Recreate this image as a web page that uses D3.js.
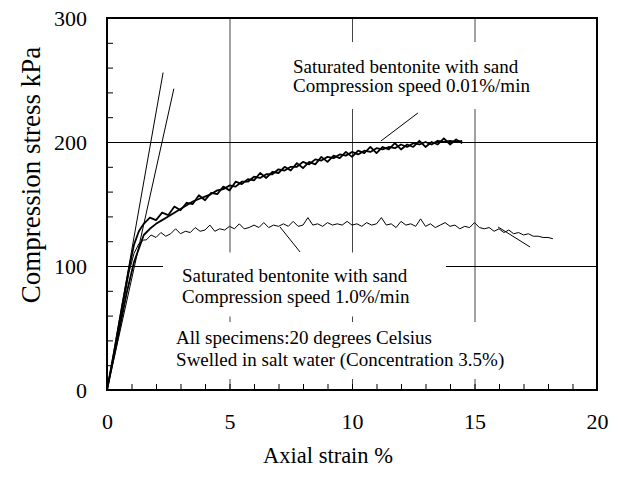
<!DOCTYPE html>
<html>
<head>
<meta charset="utf-8">
<script src="https://cdn.jsdelivr.net/npm/d3@7"></script>
<style>
  body { margin: 0; background: #fff; }
  svg text { font-family: "Liberation Serif", "Times New Roman", serif; fill: #000; }
</style>
</head>
<body>
<div id="chart"></div>
<script>
// axis ticks / grid
const xTicks = [0, 5, 10, 15, 20];
const yTicks = [0, 100, 200, 300];
const xGrid = [5, 10, 15];
const yGrid = [100, 200];

// compression speed 0.01%/min, two specimens [strain %, stress kPa]
const slowA = [
  [0,0],[0.3,32],[0.6,66],[0.9,98],[1.1,117],[1.3,128],[1.5,134],[1.75,139],[2,137],[2.25,143],
  [2.5,141],[2.75,148],[3,145],[3.25,151],[3.5,150],[3.75,157],[4,153],[4.25,159],[4.5,158],
  [4.75,164],[5,161],[5.25,168],[5.5,166],[5.75,170],[6,169],[6.25,175],[6.5,171],[6.75,176],
  [7,175],[7.25,180],[7.5,177],[7.75,183],[8,179],[8.25,184],[8.5,182],[8.75,188],[9,184],
  [9.25,189],[9.5,187],[9.75,192],[10,188],[10.25,193],[10.5,191],[10.75,196],[11,191],
  [11.25,196],[11.5,194],[11.75,199],[12,194],[12.25,198],[12.5,196],[12.75,201],[13,196],
  [13.25,200],[13.5,198],[13.75,203],[14,198],[14.25,202],[14.5,199]
];
const slowB = [
  [0,0],[0.4,38],[0.8,78],[1.1,103],[1.3,114],[1.5,125],[1.75,130],[2,134],[2.25,137],[2.5,140],
  [2.75,143],[3,146],[3.25,149],[3.5,152],[3.75,154],[4,156],[4.25,158],[4.5,161],[4.75,162],
  [5,165],[5.25,164],[5.5,168],[5.75,168],[6,172],[6.25,171],[6.5,174],[6.75,174],[7,178],
  [7.25,177],[7.5,180],[7.75,180],[8,184],[8.25,182],[8.5,186],[8.75,185],[9,188],[9.25,187],
  [9.5,190],[9.75,189],[10,192],[10.25,190],[10.5,193],[10.75,192],[11,195],[11.25,194],
  [11.5,196],[11.75,195],[12,198],[12.25,196],[12.5,199],[12.75,198],[13,200],[13.25,198],
  [13.5,201],[13.75,200],[14,201],[14.25,200],[14.5,201]
];

// compression speed 1.0%/min
const fastCurve = [
  [0,0],[0.3,30],[0.6,62],[0.9,95],[1.1,110],[1.3,118],[1.5,121],[1.6,121],[1.8,125],[2.0,123],
  [2.2,127],[2.4,124],[2.6,126],[2.8,130],[3.0,126],[3.2,128],[3.4,127],[3.6,131],[3.8,128],
  [4.0,129],[4.2,133],[4.4,128],[4.6,130],[4.8,129],[5.0,132],[5.2,130],[5.4,134],[5.6,130],
  [5.8,131],[6.0,133],[6.2,131],[6.4,135],[6.6,131],[6.8,133],[7.0,132],[7.2,134],[7.4,132],
  [7.6,136],[7.8,132],[8.0,133],[8.2,139],[8.4,133],[8.6,134],[8.8,132],[9.0,135],[9.2,133],
  [9.4,134],[9.6,133],[9.8,136],[10.0,133],[10.2,134],[10.4,132],[10.6,135],[10.8,133],
  [11.0,134],[11.2,139],[11.4,133],[11.6,134],[11.8,131],[12.0,136],[12.2,133],[12.4,134],
  [12.6,132],[12.8,138],[13.0,132],[13.2,134],[13.4,131],[13.6,133],[13.8,135],[14.0,132],
  [14.2,133],[14.4,130],[14.6,132],[14.8,131],[15.0,135],[15.2,131],[15.4,130],[15.6,131],
  [15.8,128],[16.0,130],[16.2,127],[16.4,129],[16.6,126],[16.8,127],[17.0,125],[17.2,126],
  [17.4,124],[17.6,124],[17.8,123],[18.0,123],[18.2,122]
];

// initial tangent lines
const tangentLines = [
  [[0,0],[2.29,256]],
  [[0,0],[2.73,243]]
];

// leader lines from notes to curves
const leaderLines = [
  [[11.18,200.8],[12.69,223.4]],
  [[7.06,131.5],[7.88,111.3]],
  [[15.96,131.5],[17.27,115.3]]
];

const noteSlow = ["Saturated bentonite with sand", "Compression speed 0.01%/min"];
const noteFast = ["Saturated bentonite with sand", "Compression speed 1.0%/min"];
const noteAll = ["All specimens:20 degrees Celsius", "Swelled in salt water (Concentration 3.5%)"];

const width = 623, height = 486;
const plot = { left: 107, right: 597, top: 18, bottom: 390 };

const svg = d3.select("#chart").append("svg")
  .attr("width", width)
  .attr("height", height);

const x = d3.scaleLinear().domain([0, 20]).range([plot.left, plot.right]);
const y = d3.scaleLinear().domain([0, 300]).range([plot.bottom, plot.top]);

// grid lines
svg.selectAll("line.vgrid").data(xGrid).enter().append("line")
  .attr("class", "vgrid")
  .attr("x1", d => x(d) + 0.5).attr("x2", d => x(d) + 0.5)
  .attr("y1", plot.top).attr("y2", plot.bottom)
  .attr("stroke", "#444").attr("stroke-width", 1);

svg.selectAll("line.hgrid").data(yGrid).enter().append("line")
  .attr("class", "hgrid")
  .attr("x1", plot.left).attr("x2", plot.right)
  .attr("y1", d => y(d) + 0.5).attr("y2", d => y(d) + 0.5)
  .attr("stroke", "#000").attr("stroke-width", 1);

// notes with white backing boxes
function note(lines, sx, sy, lh, pad) {
  const g = svg.append("g");
  const box = g.append("rect").attr("fill", "#fff");
  const t = g.append("text")
    .attr("x", x(sx)).attr("y", y(sy))
    .style("font-size", "19px");
  lines.forEach((l, i) => {
    t.append("tspan").attr("x", x(sx)).attr("dy", i === 0 ? 0 : lh).text(l);
  });
  const b = t.node().getBBox();
  box.attr("x", b.x - pad[3]).attr("y", b.y - pad[0])
    .attr("width", b.width + pad[1] + pad[3])
    .attr("height", b.height + pad[0] + pad[2]);
}
note(noteSlow, 7.59, 255.6, 19, [14, 10, 13, 8]);
note(noteFast, 3.06, 87.5, 21, [12, 36, 10, 19]);
note(noteAll, 2.82, 37.1, 22, [5, 14, 8, 6]);

// curves
const line = d3.line().x(d => x(d[0])).y(d => y(d[1]));

[slowA, slowB].forEach(s => {
  svg.append("path").datum(s)
    .attr("fill", "none").attr("stroke", "#000")
    .attr("stroke-width", 1.8).attr("stroke-linejoin", "round")
    .attr("d", line);
});

svg.append("path").datum(fastCurve)
  .attr("fill", "none").attr("stroke", "#000")
  .attr("stroke-width", 1)
  .attr("d", line);

tangentLines.concat(leaderLines).forEach(s => {
  svg.append("path").datum(s)
    .attr("fill", "none").attr("stroke", "#000")
    .attr("stroke-width", 1)
    .attr("d", line);
});

// inner minor ticks
svg.append("g")
  .attr("transform", `translate(${plot.left},0)`)
  .call(d3.axisLeft(y).tickValues(d3.range(0, 300, 20)).tickSize(-6).tickFormat(""))
  .call(g => g.select(".domain").remove());

svg.append("g")
  .attr("transform", `translate(0,${plot.bottom})`)
  .call(d3.axisBottom(x).tickValues(d3.range(0, 20, 1)).tickSize(-6).tickFormat(""))
  .call(g => g.select(".domain").remove());

// tick labels
svg.append("g")
  .attr("transform", `translate(${plot.left},0)`)
  .call(d3.axisLeft(y).tickValues(yTicks).tickSize(0).tickPadding(20))
  .call(g => g.select(".domain").remove())
  .selectAll("text")
  .style("font-size", "22px")
  .style("font-family", "'Liberation Serif', 'Times New Roman', serif");

svg.append("g")
  .attr("transform", `translate(0,${plot.bottom})`)
  .call(d3.axisBottom(x).tickValues(xTicks).tickSize(0).tickPadding(23))
  .call(g => g.select(".domain").remove())
  .selectAll("text")
  .style("font-size", "22px")
  .style("font-family", "'Liberation Serif', 'Times New Roman', serif");

// frame
svg.append("rect")
  .attr("x", plot.left).attr("y", plot.top)
  .attr("width", plot.right - plot.left).attr("height", plot.bottom - plot.top)
  .attr("fill", "none").attr("stroke", "#000").attr("stroke-width", 2);

// axis titles
svg.append("text")
  .attr("x", 328).attr("y", 463)
  .attr("text-anchor", "middle")
  .style("font-size", "22.5px")
  .text("Axial strain %");

svg.append("text")
  .attr("transform", "translate(40,175) rotate(-90)")
  .attr("text-anchor", "middle")
  .style("font-size", "27px")
  .text("Compression stress kPa");
</script>
</body>
</html>
